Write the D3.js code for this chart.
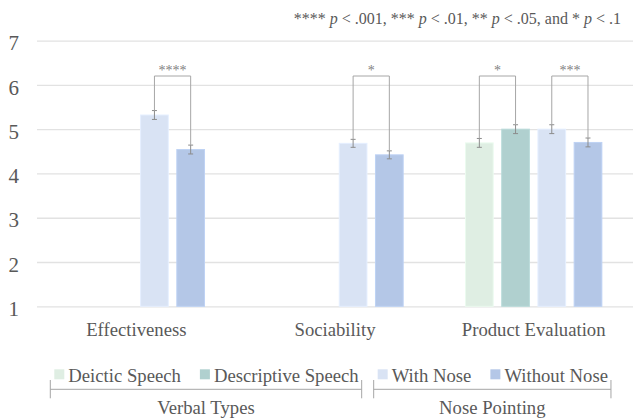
<!DOCTYPE html>
<html>
<head>
<meta charset="utf-8">
<script src="https://cdn.jsdelivr.net/npm/d3@7"></script>
<style>
  body { margin: 0; background: #fff; }
</style>
</head>
<body>
<svg id="chart" width="633" height="420"></svg>
<script>
(function() {

  // data
  let categories = ["Effectiveness", "Sociability", "Product Evaluation"];
  let series = ["Deictic Speech", "Descriptive Speech", "With Nose", "Without Nose"];
  let colors = ["#dfeee3", "#b0d0cf", "#d9e3f4", "#b4c7e7"];
  let deictic = [null, null, 4.69];
  let descriptive = [null, null, 5.0];
  let withNose = [5.32, 4.68, 5.0];
  let withoutNose = [4.54, 4.42, 4.70];
  let errDeictic = [null, null, 0.1];
  let errDescriptive = [null, null, 0.1];
  let errWith = [0.1, 0.09, 0.1];
  let errWithout = [0.1, 0.09, 0.1];
  let yTicks = [1, 2, 3, 4, 5, 6, 7];
  let sigs = [
    [0, 2, 3, "****"],
    [1, 2, 3, "*"],
    [2, 0, 1, "*"],
    [2, 2, 3, "***"]
  ];
  let legendGroups = [["Verbal Types", [0, 1]], ["Nose Pointing", [2, 3]]];

  let values = [deictic, descriptive, withNose, withoutNose];
  let errors = [errDeictic, errDescriptive, errWith, errWithout];

  let font = "'Liberation Serif'";
  let textColor = "#595959";
  let svg = d3.select("#chart");

  // scales
  let x0 = d3.scaleBand()
             .domain(categories)
             .range([37, 633]);
  let x1 = d3.scaleBand()
             .domain(d3.range(series.length))
             .range([0, x0.bandwidth()])
             .paddingInner(0.235)
             .paddingOuter(0.86);
  let y = d3.scaleLinear()
            .domain([1, 7])
            .range([306.3, 40.6]);

  // gridlines
  let yAxis = d3.axisLeft(y)
                .tickValues(yTicks)
                .tickSize(-(633 - 37))
                .tickFormat("");
  let g = svg.append("g")
             .attr("transform", "translate(37,0)")
             .call(yAxis);
  g.select(".domain").remove();
  g.selectAll("line").attr("stroke", "#e2e2e2").attr("stroke-width", 1.3);

  function label(sel) {
    return sel.attr("font-family", font).attr("fill", textColor);
  }

  svg.selectAll(".ylab")
     .data(yTicks)
     .enter()
     .append("text")
     .attr("class", "ylab")
     .call(label)
     .attr("text-anchor", "end")
     .attr("x", 19)
     .attr("y", d => y(d) + 9.7)
     .attr("font-size", "21px")
     .text(d => d);

  // bars
  let bars = [];
  categories.forEach((c, i) => {
    series.forEach((s, j) => {
      if (values[j][i] != null)
        bars.push({cat: c, s: j, v: values[j][i], e: errors[j][i]});
    });
  });

  svg.selectAll(".bar")
     .data(bars)
     .enter()
     .append("rect")
     .attr("class", "bar")
     .attr("x", d => x0(d.cat) + x1(d.s))
     .attr("width", x1.bandwidth())
     .attr("y", d => y(d.v))
     .attr("height", d => y(1) - y(d.v))
     .attr("fill", d => colors[d.s])
     .attr("stroke", d => d3.color(colors[d.s]).brighter(0.15))
     .attr("stroke-width", 1);

  // error bars
  let cx = d => x0(d.cat) + x1(d.s) + x1.bandwidth() / 2;
  let eb = svg.selectAll(".err")
              .data(bars)
              .enter()
              .append("g")
              .attr("class", "err")
              .attr("stroke", "#8c8c8c")
              .attr("stroke-width", 1);
  eb.append("line")
    .attr("x1", cx).attr("x2", cx)
    .attr("y1", d => y(d.v + d.e)).attr("y2", d => y(d.v - d.e));
  eb.append("line")
    .attr("x1", d => cx(d) - 2.5).attr("x2", d => cx(d) + 2.5)
    .attr("y1", d => y(d.v + d.e)).attr("y2", d => y(d.v + d.e));
  eb.append("line")
    .attr("x1", d => cx(d) - 2.5).attr("x2", d => cx(d) + 2.5)
    .attr("y1", d => y(d.v - d.e)).attr("y2", d => y(d.v - d.e));

  // significance brackets
  let topY = 76;
  sigs.forEach(sg => {
    let c = categories[sg[0]];
    let xa = x0(c) + x1(sg[1]) + x1.bandwidth() / 2;
    let xb = x0(c) + x1(sg[2]) + x1.bandwidth() / 2;
    let ya = y(values[sg[1]][sg[0]] + errors[sg[1]][sg[0]]);
    let yb = y(values[sg[2]][sg[0]] + errors[sg[2]][sg[0]]);
    svg.append("path")
       .attr("fill", "none")
       .attr("stroke", "#a6a6a6")
       .attr("stroke-width", 1)
       .attr("d", d3.line()([[xa, ya], [xa, topY], [xb, topY], [xb, yb]]));
    svg.append("text")
       .call(label)
       .attr("text-anchor", "middle")
       .attr("x", (xa + xb) / 2)
       .attr("y", topY - 1)
       .attr("font-size", "14px")
       .attr("fill", "#7f7f7f")
       .text(sg[3]);
  });

  // category labels
  svg.selectAll(".cat")
     .data(categories)
     .enter()
     .append("text")
     .attr("class", "cat")
     .call(label)
     .attr("text-anchor", "middle")
     .attr("x", d => x0(d) + x0.bandwidth() / 2)
     .attr("y", 336)
     .attr("font-size", "18.7px")
     .text(d => d);

  // p-value note
  let note = svg.append("text")
                .call(label)
                .attr("text-anchor", "end")
                .attr("x", 621)
                .attr("y", 24)
                .attr("font-size", "16px");
  [["**** ", ""], ["p", "italic"], [" < .001, *** ", ""], ["p", "italic"], [" < .01, ** ", ""],
   ["p", "italic"], [" < .05, and * ", ""], ["p", "italic"], [" < .1", ""]].forEach(t => {
    note.append("tspan").attr("font-style", t[1] || null).text(t[0]);
  });

  // legend
  let lx = 54.3;
  let legY = 381.7;
  let itemPos = [];
  series.forEach((s, j) => {
    svg.append("rect")
       .attr("x", lx).attr("y", legY - 12.4)
       .attr("width", 10).attr("height", 10)
       .attr("fill", colors[j]);
    let t = svg.append("text")
               .call(label)
               .attr("x", lx + 14)
               .attr("y", legY)
               .attr("font-size", "18.7px")
               .text(s);
    let tw = t.node().getComputedTextLength();
    itemPos.push([lx, lx + 14 + tw]);
    lx += 14 + tw + 19;
  });

  legendGroups.forEach(gr => {
    let left = itemPos[gr[1][0]][0] - 4;
    let right = itemPos[gr[1][gr[1].length - 1]][1] + 3;
    svg.append("path")
       .attr("fill", "none")
       .attr("stroke", "#a6a6a6")
       .attr("stroke-width", 1)
       .attr("d", "M" + left + ",380V398.3M" + left + ",389.3H" + right + "M" + right + ",380V398.3");
    svg.append("text")
       .call(label)
       .attr("text-anchor", "middle")
       .attr("x", (left + right) / 2)
       .attr("y", 413.5)
       .attr("font-size", "18.7px")
       .text(gr[0]);
  });

})();
</script>
</body>
</html>
